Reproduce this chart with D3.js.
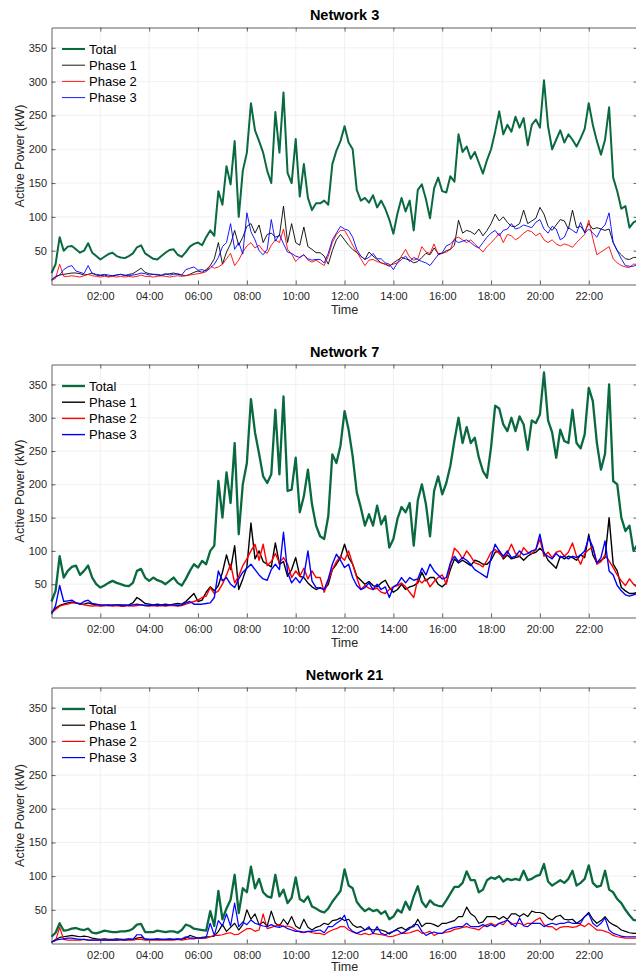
<!DOCTYPE html>
<html>
<head>
<meta charset="utf-8">
<script src="https://cdn.jsdelivr.net/npm/d3@7/dist/d3.min.js"></script>
<style>
  body { margin: 0; background: #fff; }
  svg { display: block; }
  text { font-family: "Liberation Sans", Arial, Helvetica, sans-serif; }
</style>
</head>
<body>
<svg id="chart" width="636" height="973"></svg>
<script>
// ---- data: active power (kW) sampled every 10 minutes, 00:00 .. 24:00 ----
const networks = ["Network 3", "Network 7", "Network 21"];
const seriesNames = ["Total", "Phase 1", "Phase 2", "Phase 3"];
const seriesColors = ["#0a6a3f", "#000000", "#ff0000", "#0000ff"];
const stepMinutes = 10;
const hourTicks = [2, 4, 6, 8, 10, 12, 14, 16, 18, 20, 22];
const tickLabels = ["02:00", "04:00", "06:00", "08:00", "10:00", "12:00", "14:00", "16:00", "18:00", "20:00", "22:00"];
const yTicks = [50, 100, 150, 200, 250, 300, 350];
const yMax = 380;

const n3Total = [
  17, 30, 70, 50, 56, 57,  52, 47, 50, 61, 47, 42,
  37, 41, 45, 47, 42, 40,  39, 42, 46, 55, 58, 46,
  42, 38, 37, 42, 47, 51,  52, 44, 41, 48, 56, 60,
  62, 58, 70, 80, 72, 138,  118, 175, 148, 212, 100, 168,
  195, 268, 228, 212, 195, 168,  150, 255, 195, 284, 165, 150,
  215, 130, 178, 128, 110, 120,  120, 124, 118, 178, 198, 212,
  234, 210, 200, 140, 124, 128,  121, 132, 114, 124, 112, 96,
  75, 105, 128, 108, 124, 80,  140, 148, 126, 98, 142, 158,
  138, 136, 160, 152, 222, 196,  204, 186, 196, 180, 164, 184,
  200, 226, 256, 222, 236, 226,  248, 232, 246, 206, 236, 244,
  232, 302, 234, 200, 214, 228,  210, 222, 214, 204, 216, 230,
  268, 236, 212, 192, 214, 262,  158, 138, 112, 116, 84, 92,
  95
];
const n3Phase1 = [
  7, 12, 14, 15, 16, 17,  17, 16, 14, 15, 17, 14,
  13, 14, 12, 13, 14, 15,  13, 15, 16, 20, 24, 18,
  16, 15, 14, 13, 15, 16,  17, 15, 14, 13, 15, 18,
  20, 18, 22, 28, 38, 62,  30, 48, 60, 80, 58, 70,
  86, 90, 76, 88, 62, 74,  76, 70, 72, 116, 62, 90,
  62, 58, 85, 56, 52, 47,  47, 42, 30, 50, 66, 74,
  66, 58, 52, 47, 42, 37,  48, 42, 37, 32, 30, 27,
  32, 36, 40, 38, 36, 32,  34, 40, 46, 44, 54, 46,
  46, 50, 52, 58, 95, 76,  80, 78, 74, 82, 72, 80,
  90, 104, 94, 100, 92, 86,  86, 90, 110, 90, 94, 98,
  114, 104, 86, 80, 88, 96,  94, 82, 110, 84, 86, 78,
  90, 82, 84, 82, 80, 82,  62, 50, 44, 38, 37, 40,
  40
];
const n3Phase2 = [
  6, 9, 30, 12, 12, 13,  12, 11, 13, 15, 13, 12,
  11, 12, 11, 12, 11, 12,  11, 12, 11, 12, 14, 12,
  12, 11, 12, 13, 12, 11,  12, 13, 12, 13, 14, 15,
  16, 17, 19, 28, 24, 26,  30, 38, 46, 28, 36, 48,
  57, 62, 54, 58, 50, 46,  58, 66, 62, 82, 52, 45,
  34, 40, 44, 36, 33, 36,  32, 28, 42, 62, 74, 80,
  80, 70, 58, 48, 38, 28,  36, 37, 34, 32, 30, 28,
  30, 32, 42, 52, 40, 36,  38, 56, 48, 46, 60, 44,
  46, 48, 52, 68, 70, 66,  62, 66, 60, 54, 48, 56,
  62, 68, 76, 62, 74, 72,  66, 70, 76, 80, 78, 72,
  76, 66, 62, 66, 60, 57,  60, 58, 55, 62, 68, 74,
  95, 68, 44, 48, 52, 56,  38, 32, 28, 26, 25, 30,
  30
];
const n3Phase3 = [
  7, 11, 14, 22, 26, 28,  20, 18, 16, 28, 16, 15,
  14, 15, 14, 13, 14, 15,  14, 13, 14, 15, 17, 16,
  14, 15, 15, 14, 16, 14,  15, 16, 14, 22, 24, 26,
  21, 22, 20, 24, 30, 40,  56, 62, 90, 52, 62, 45,
  106, 78, 66, 50, 44, 52,  96, 64, 74, 60, 48, 46,
  42, 40, 44, 38, 36, 37,  37, 32, 46, 66, 76, 86,
  82, 80, 70, 52, 42, 37,  40, 46, 38, 38, 32, 30,
  22, 32, 37, 42, 34, 40,  37, 34, 32, 28, 36, 44,
  47, 57, 60, 66, 62, 64,  66, 62, 57, 54, 62, 70,
  76, 80, 72, 80, 82, 90,  82, 84, 88, 86, 84, 92,
  96, 82, 76, 86, 82, 66,  70, 84, 80, 76, 92, 76,
  82, 76, 70, 82, 88, 106,  62, 50, 38, 28, 27, 27,
  30
];

const n7Total = [
  24, 40, 92, 60, 70, 76,  78, 64, 70, 78, 60, 50,
  45, 48, 52, 55, 52, 50,  48, 47, 52, 70, 73, 60,
  55, 60, 56, 54, 50, 55,  60, 52, 48, 58, 70, 80,
  75, 85, 80, 100, 108, 205,  150, 218, 172, 262, 125, 200,
  232, 328, 278, 246, 212, 202,  215, 312, 215, 332, 190, 192,
  240, 158, 182, 222, 170, 138,  122, 118, 152, 245, 232, 258,
  310, 282, 242, 188, 165, 138,  155, 138, 168, 140, 152, 105,
  118, 148, 166, 158, 172, 108,  176, 200, 170, 122, 190, 212,
  185, 202, 228, 266, 300, 262,  286, 262, 270, 240, 220, 210,
  256, 318, 314, 290, 280, 300,  280, 302, 290, 252, 296, 292,
  305, 368, 296, 278, 240, 282,  265, 262, 312, 262, 254, 275,
  345, 325, 262, 222, 246, 350,  205, 200, 150, 130, 138, 100,
  110
];
const n7Phase1 = [
  8, 14, 18, 20, 22, 23,  22, 20, 20, 22, 20, 19,
  18, 18, 19, 18, 19, 19,  18, 19, 22, 30, 26, 21,
  20, 19, 20, 19, 20, 19,  20, 21, 20, 24, 30, 36,
  24, 26, 38, 46, 40, 48,  68, 94, 72, 108, 42, 58,
  76, 142, 88, 100, 84, 80,  76, 112, 80, 84, 62, 72,
  90, 62, 60, 52, 46, 42,  45, 42, 50, 72, 80, 90,
  110, 90, 80, 62, 56, 50,  54, 48, 46, 52, 56, 45,
  38, 42, 50, 42, 46, 48,  52, 68, 55, 60, 60, 50,
  46, 52, 72, 88, 82, 86,  82, 78, 86, 84, 80, 80,
  86, 98, 100, 88, 94, 88,  90, 92, 86, 92, 96, 98,
  104, 98, 86, 80, 74, 92,  88, 92, 90, 86, 94, 90,
  125, 94, 82, 86, 90, 150,  80, 70, 45, 40, 36, 36,
  38
];
const n7Phase2 = [
  7, 12, 17, 19, 20, 22,  22, 21, 19, 18, 17, 18,
  17, 18, 18, 17, 18, 17,  17, 18, 17, 18, 19, 18,
  17, 18, 17, 18, 17, 18,  18, 17, 18, 20, 22, 24,
  26, 30, 32, 45, 36, 40,  50, 64, 80, 52, 62, 78,
  88, 100, 110, 86, 110, 78,  84, 96, 82, 90, 80, 60,
  70, 62, 74, 58, 70, 60,  60, 38, 55, 72, 84, 92,
  86, 100, 80, 60, 42, 48,  44, 42, 44, 38, 36, 42,
  46, 48, 52, 46, 38, 30,  58, 52, 58, 46, 54, 60,
  64, 50, 80, 104, 98, 88,  100, 92, 82, 80, 76, 86,
  98, 102, 96, 90, 96, 110,  96, 92, 105, 98, 96, 102,
  118, 92, 98, 90, 98, 100,  92, 98, 112, 92, 80, 96,
  102, 106, 80, 84, 94, 85,  75, 64, 55, 48, 58, 50,
  45
];
const n7Phase3 = [
  5, 18, 48, 24, 25, 26,  22, 20, 24, 26, 21, 20,
  19, 19, 18, 19, 19, 18,  19, 18, 19, 20, 19, 18,
  18, 19, 18, 19, 18, 19,  19, 18, 19, 22, 24, 20,
  20, 20, 21, 22, 30, 70,  55, 60, 50, 45, 58, 68,
  74, 80, 72, 64, 58, 56,  72, 80, 72, 128, 68, 52,
  60, 52, 62, 100, 55, 45,  44, 42, 58, 80, 95, 86,
  75, 80, 60, 48, 42, 45,  52, 42, 50, 42, 46, 30,
  46, 50, 60, 52, 60, 56,  58, 74, 64, 80, 70, 64,
  58, 60, 82, 92, 84, 90,  86, 80, 72, 68, 64, 60,
  90, 110, 100, 92, 100, 90,  92, 100, 94, 96, 100, 102,
  125, 96, 92, 88, 96, 90,  92, 88, 92, 90, 94, 100,
  120, 106, 82, 90, 115, 70,  64, 48, 40, 34, 32, 34,
  36
];

const n21Total = [
  10, 16, 30, 19, 20, 22,  23, 21, 20, 22, 16, 15,
  17, 19, 18, 17, 17, 18,  18, 19, 22, 28, 29, 17,
  17, 17, 19, 18, 17, 18,  18, 16, 20, 28, 26, 22,
  21, 20, 19, 48, 26, 78,  36, 52, 65, 102, 45, 82,
  76, 114, 82, 96, 76, 70,  68, 102, 70, 80, 60, 68,
  98, 66, 62, 70, 55, 52,  48, 46, 52, 62, 70, 78,
  110, 86, 82, 62, 54, 48,  52, 48, 50, 44, 48, 36,
  40, 50, 46, 62, 50, 70,  85, 62, 54, 64, 58, 56,
  55, 64, 74, 84, 84, 90,  107, 94, 94, 76, 80, 94,
  98, 96, 100, 92, 96, 94,  96, 94, 108, 94, 96, 100,
  102, 118, 92, 86, 90, 94,  90, 96, 108, 86, 90, 96,
  116, 90, 84, 86, 108, 80,  76, 66, 60, 50, 42, 35,
  34
];
const n21Phase1 = [
  2, 6, 9, 10, 11, 12,  11, 10, 11, 10, 8, 7,
  6, 7, 6, 6, 7, 6,  6, 7, 6, 8, 9, 7,
  6, 6, 7, 6, 6, 7,  6, 7, 6, 8, 12, 10,
  8, 9, 10, 10, 11, 18,  28, 18, 24, 30, 20, 28,
  50, 36, 44, 28, 32, 26,  48, 30, 26, 36, 28, 40,
  26, 22, 36, 24, 20, 24,  26, 30, 28, 34, 35, 38,
  34, 36, 28, 24, 25, 20,  22, 20, 21, 20, 18, 14,
  18, 22, 24, 20, 24, 25,  36, 25, 30, 30, 28, 25,
  30, 30, 32, 34, 40, 40,  54, 44, 40, 30, 32, 40,
  40, 40, 36, 40, 36, 44,  44, 40, 44, 40, 48, 46,
  46, 44, 38, 35, 40, 42,  36, 35, 36, 30, 34, 40,
  46, 36, 30, 34, 40, 32,  28, 25, 20, 18, 16, 15,
  15
];
const n21Phase2 = [
  2, 4, 24, 6, 5, 5,  5, 5, 6, 5, 5, 5,
  5, 5, 5, 5, 5, 5,  5, 5, 5, 6, 6, 5,
  5, 5, 5, 5, 5, 5,  5, 6, 5, 6, 7, 7,
  8, 8, 8, 10, 12, 12,  13, 15, 16, 13, 14, 18,
  22, 22, 18, 20, 44, 22,  24, 26, 28, 25, 26, 24,
  20, 17, 16, 18, 16, 15,  15, 13, 17, 20, 22, 25,
  25, 20, 17, 15, 13, 15,  13, 15, 14, 13, 12, 10,
  11, 13, 15, 15, 16, 18,  20, 15, 16, 18, 12, 15,
  15, 17, 18, 21, 22, 24,  25, 23, 22, 20, 25, 28,
  30, 27, 30, 28, 35, 28,  30, 30, 27, 30, 30, 35,
  38, 28, 25, 25, 20, 24,  25, 25, 24, 25, 28, 25,
  30, 25, 20, 20, 18, 16,  12, 10, 9, 8, 8, 8,
  8
];
const n21Phase3 = [
  2, 5, 6, 7, 8, 8,  7, 6, 6, 5, 5, 5,
  5, 5, 5, 5, 5, 6,  5, 6, 6, 13, 13, 6,
  6, 6, 6, 6, 6, 6,  6, 6, 7, 10, 8, 8,
  8, 8, 9, 30, 12, 34,  26, 44, 26, 60, 25, 32,
  28, 35, 30, 28, 26, 25,  28, 25, 24, 26, 22, 20,
  18, 18, 17, 18, 18, 19,  20, 16, 25, 25, 30, 34,
  42, 24, 18, 15, 18, 20,  25, 15, 25, 15, 13, 16,
  18, 20, 15, 18, 22, 28,  28, 18, 12, 15, 17, 15,
  15, 20, 22, 24, 25, 25,  30, 25, 25, 25, 28, 25,
  28, 25, 30, 32, 35, 30,  25, 38, 26, 25, 30, 30,
  30, 25, 28, 30, 28, 30,  30, 32, 30, 30, 30, 40,
  44, 30, 25, 30, 38, 20,  15, 13, 11, 10, 10, 10,
  10
];

const networkSeries = [
  [n3Total, n3Phase1, n3Phase2, n3Phase3],
  [n7Total, n7Phase1, n7Phase2, n7Phase3],
  [n21Total, n21Phase1, n21Phase2, n21Phase3]
];

// ---- layout ----
const panels = [
  { top: 27.5, bottom: 284.5, totalW: 2.0, phaseW: 0.9, xTitleGap: 29 },
  { top: 364.5, bottom: 617.5, totalW: 2.3, phaseW: 1.4, xTitleGap: 29 },
  { top: 687.5, bottom: 943.5, totalW: 2.3, phaseW: 1.2, xTitleGap: 27.5 }
];
const plotLeft = 51.5, plotRight = 637.6;
const axisColor = "#3a3a3a";
const textColor = "#262626";

const svg = d3.select("#chart");
const x = d3.scaleLinear().domain([0, 24]).range([plotLeft, plotRight]);

panels.forEach((p, i) => {
  const y = d3.scaleLinear().domain([0, yMax]).range([p.bottom, p.top]);
  const g = svg.append("g");

  // grid
  g.append("g").selectAll("line").data(hourTicks).join("line")
    .attr("x1", d => x(d)).attr("x2", d => x(d))
    .attr("y1", p.top).attr("y2", p.bottom)
    .attr("stroke", "#eeeeee").attr("stroke-width", 0.8);
  g.append("g").selectAll("line").data(yTicks).join("line")
    .attr("x1", plotLeft).attr("x2", plotRight)
    .attr("y1", d => y(d)).attr("y2", d => y(d))
    .attr("stroke", "#eeeeee").attr("stroke-width", 0.8);

  // series
  const line = d3.line()
    .x((d, k) => x(k * stepMinutes / 60))
    .y(d => y(d));
  networkSeries[i].forEach((vals, s) => {
    g.append("path")
      .datum(vals)
      .attr("fill", "none")
      .attr("stroke", seriesColors[s])
      .attr("stroke-width", s === 0 ? p.totalW : p.phaseW)
      .attr("stroke-linejoin", "round")
      .attr("d", line);
  });

  // axes (ticks pointing inward, box on all four sides)
  const styleAxis = sel => {
    sel.selectAll("path.domain").attr("stroke", axisColor).attr("stroke-width", 0.8);
    sel.selectAll(".tick line").attr("stroke", axisColor).attr("stroke-width", 0.8);
    sel.selectAll("text").attr("fill", textColor).style("font-size", "11px")
      .style("font-family", "'Liberation Sans', Arial, sans-serif");
  };
  g.append("g").attr("transform", `translate(0,${p.bottom})`)
    .call(d3.axisBottom(x).tickValues(hourTicks).tickFormat((d, j) => tickLabels[j])
      .tickSizeInner(-4).tickSizeOuter(0).tickPadding(7.5))
    .call(styleAxis);
  g.append("g").attr("transform", `translate(0,${p.top})`)
    .call(d3.axisTop(x).tickValues(hourTicks).tickFormat("")
      .tickSizeInner(-4).tickSizeOuter(0))
    .call(styleAxis);
  g.append("g").attr("transform", `translate(${plotLeft},0)`)
    .call(d3.axisLeft(y).tickValues(yTicks).tickSizeInner(-4).tickSizeOuter(0).tickPadding(4.5))
    .call(styleAxis);
  g.append("g").attr("transform", `translate(${plotRight},0)`)
    .call(d3.axisRight(y).tickValues(yTicks).tickFormat("").tickSizeInner(-4).tickSizeOuter(0))
    .call(styleAxis);

  // title
  g.append("text")
    .attr("x", (plotLeft + plotRight) / 2).attr("y", p.top - 8)
    .attr("text-anchor", "middle")
    .style("font-size", "14.5px").style("font-weight", "bold")
    .attr("fill", "#000")
    .text(networks[i]);

  // axis titles
  g.append("text")
    .attr("x", (plotLeft + plotRight) / 2).attr("y", p.bottom + p.xTitleGap)
    .attr("text-anchor", "middle")
    .style("font-size", "12.5px").attr("fill", textColor)
    .text("Time");
  g.append("text")
    .attr("transform", `translate(24,${(p.top + p.bottom) / 2}) rotate(-90)`)
    .attr("text-anchor", "middle")
    .style("font-size", "12.5px").attr("fill", textColor)
    .text("Active Power (kW)");

  // legend
  const lg = g.append("g").attr("transform", `translate(62,${p.top + 21.5})`);
  seriesNames.forEach((name, s) => {
    const row = lg.append("g").attr("transform", `translate(0,${s * 16.2})`);
    row.append("line").attr("x1", 0).attr("x2", 23).attr("y1", 0).attr("y2", 0)
      .attr("stroke", seriesColors[s])
      .attr("stroke-width", s === 0 ? p.totalW : p.phaseW);
    row.append("text").attr("x", 27).attr("y", 0).attr("dy", "0.36em")
      .style("font-size", "13px").attr("fill", "#000")
      .text(name);
  });
});
</script>
</body>
</html>
